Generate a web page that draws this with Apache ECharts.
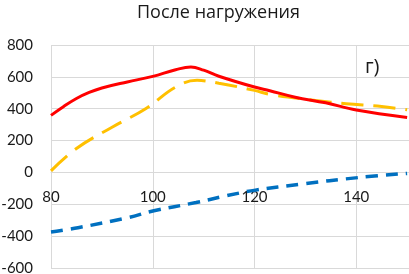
<!DOCTYPE html>
<html>
<head>
<meta charset="utf-8">
<script src="https://cdn.jsdelivr.net/npm/echarts@6/dist/echarts.min.js"></script>
<style>
html,body{margin:0;padding:0;background:#fff;}
#chart{width:409px;height:274px;}
</style>
</head>
<body>
<div id="chart"></div>
<script>
const titleText = "После нагружения";
const panelLabel = "г)";
const xTicks = [80, 100, 120, 140];
const yTicks = [-600, -400, -200, 0, 200, 400, 600, 800];

const redX = [80, 82.5, 85, 87.5, 90, 95, 100, 104.5, 107.5, 110, 113, 120, 123, 128, 134, 140, 150];
const redY = [358, 414, 464, 502, 530, 568, 603, 645, 662, 642, 604, 536, 513, 472, 437, 392, 345];

const yellowX = [80, 85, 92, 98.6, 104.5, 108.7, 113, 120, 123, 132, 138, 145, 150];
const yellowY = [10, 150, 284, 400, 536, 578, 560, 515, 490, 452, 431, 414, 393];

const blueX = [80, 85.3, 95.1, 100, 108.5, 114.4, 120.2, 129, 140.5, 150];
const blueY = [-374, -347, -284, -242, -189, -147, -111, -74, -32, -6];

function pairs(xs, ys){ return xs.map((x,i)=>[x, ys[i]]); }

const chart = echarts.init(document.getElementById('chart'), null, {renderer:'canvas'});
const font = 'Lato, "Open Sans", sans-serif';
chart.setOption({
  animation:false,
  backgroundColor:'#ffffff',
  title:{
    text:titleText, left:132, top:-1,
    textStyle:{fontFamily:'"Open Sans", sans-serif', fontSize:18, fontWeight:'normal', color:'#1a1a1a'}
  },
  graphic:[{
    type:'text', left:365, top:57,
    style:{text:panelLabel, font:'20px "Open Sans", sans-serif', fill:'#1a1a1a'}
  }],
  grid:{left:51, right:-49, top:45, bottom:6, containLabel:false, outerBoundsMode:'none'},
  xAxis:{
    type:'value', min:80, max:160, interval:20, position:'bottom', offset:-96,
    axisLine:{show:true, onZero:false, lineStyle:{color:'#d9d9d9', width:1}},
    axisTick:{show:false},
    splitLine:{show:true, lineStyle:{color:'#d9d9d9', width:1}},
    axisLabel:{
      margin:18, fontFamily:font, fontSize:15, color:'#1a1a1a',
      formatter:function(v){ return xTicks.indexOf(v) >= 0 ? String(v) : ''; }
    }
  },
  yAxis:{
    type:'value', min:-600, max:800, interval:200,
    axisLine:{show:false}, axisTick:{show:false},
    splitLine:{show:true, lineStyle:{color:'#d9d9d9', width:1}},
    axisLabel:{
      margin:18, fontFamily:font, fontSize:15, color:'#1a1a1a',
      formatter:function(v){ return yTicks.indexOf(v) >= 0 ? String(v) : ''; }
    }
  },
  series:[
    {type:'line', data:pairs(blueX, blueY), smooth:0.4, showSymbol:false,
     lineStyle:{color:'#0070c0', width:3.5, type:[12,8]}},
    {type:'line', data:pairs(yellowX, yellowY), smooth:0.4, showSymbol:false,
     lineStyle:{color:'#ffc000', width:3, type:[22,10]}},
    {type:'line', data:pairs(redX, redY), smooth:0.4, showSymbol:false,
     lineStyle:{color:'#ff0000', width:3}}
  ]
});
</script>
</body>
</html>
